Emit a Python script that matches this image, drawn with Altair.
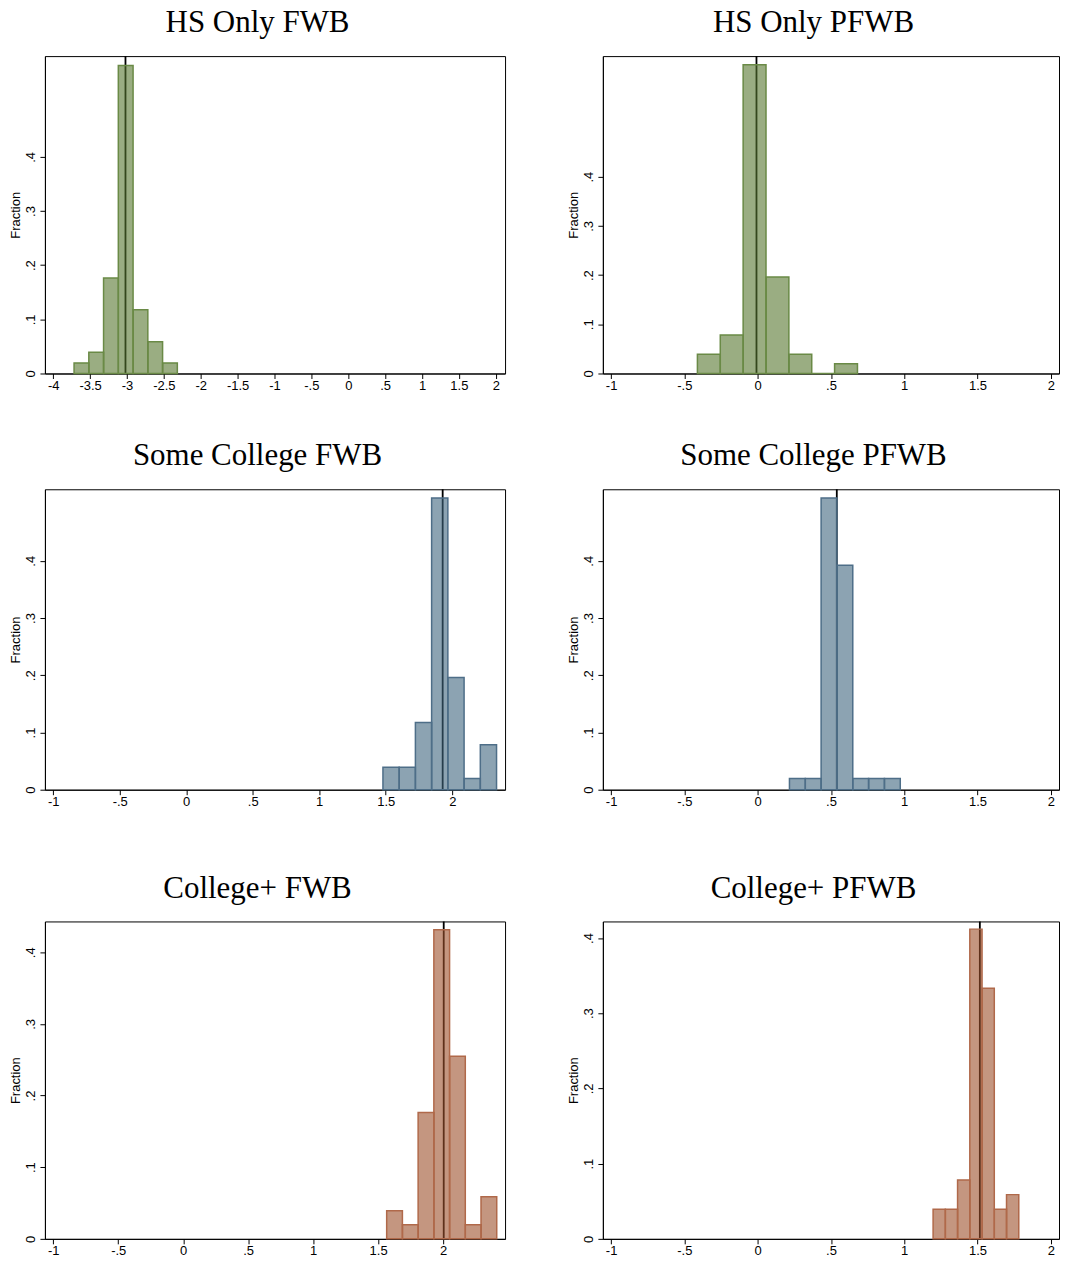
import altair as alt
import pandas as pd

# ---------------- data ----------------
titles = ["HS Only FWB", "HS Only PFWB",
          "Some College FWB", "Some College PFWB",
          "College+ FWB", "College+ PFWB"]

# bin edges (n+1) and fractions (n) for each panel, plus the mean line
hs_fwb_edges = [-3.717, -3.517, -3.317, -3.117, -2.917, -2.717, -2.517, -2.317]
hs_fwb_frac = [0.0196, 0.0392, 0.1765, 0.5686, 0.1176, 0.0588, 0.0196]
hs_fwb_mean = -3.02

hs_pfwb_edges = [-0.411, -0.255, -0.099, 0.057, 0.213, 0.369, 0.525, 0.681]
hs_pfwb_frac = [0.0392, 0.0784, 0.6275, 0.1961, 0.0392, 0.0, 0.0196]
hs_pfwb_mean = -0.008

sc_fwb_edges = [1.479, 1.601, 1.723, 1.845, 1.967, 2.089, 2.211, 2.333]
sc_fwb_frac = [0.0392, 0.0392, 0.1176, 0.5098, 0.1961, 0.0196, 0.0784]
sc_fwb_mean = 1.928

sc_pfwb_edges = [0.217, 0.325, 0.433, 0.541, 0.649, 0.757, 0.865, 0.973]
sc_pfwb_frac = [0.0196, 0.0196, 0.5098, 0.3922, 0.0196, 0.0196, 0.0196]
sc_pfwb_mean = 0.540

cp_fwb_edges = [1.566, 1.687, 1.808, 1.929, 2.050, 2.171, 2.292, 2.413]
cp_fwb_frac = [0.0392, 0.0196, 0.1765, 0.4314, 0.2549, 0.0196, 0.0588]
cp_fwb_mean = 2.005

cp_pfwb_edges = [1.197, 1.2805, 1.364, 1.4475, 1.531, 1.6145, 1.698, 1.7815]
cp_pfwb_frac = [0.0392, 0.0392, 0.0784, 0.4118, 0.3333, 0.0392, 0.0588]
cp_pfwb_mean = 1.516

x_ticks_hs_fwb = [-4, -3.5, -3, -2.5, -2, -1.5, -1, -0.5, 0, 0.5, 1, 1.5, 2]
x_ticks_other = [-1, -0.5, 0, 0.5, 1, 1.5, 2]
y_ticks = [0, 0.1, 0.2, 0.3, 0.4]

# ---------------- styling ----------------
GREEN = ("#57762f", "#6a8a46")
BLUE = ("#3f667f", "#4e6e88")
RUST = ("#9d502b", "#b0694a")

LABEL_EXPR = "(datum.value < 0 ? '-' : '') + replace(toString(abs(datum.value)), '0.', '.')"

LEFT_W = 461
RIGHT_W = 457


def panel(title, edges, frac, mean, xdom, xticks, ymax, width, height, colors):
    df = pd.DataFrame({"x": edges[:-1], "x2": edges[1:], "y": frac})
    mdf = pd.DataFrame({"x": [mean]})
    xscale = alt.Scale(domain=xdom, nice=False, zero=False)
    yscale = alt.Scale(domain=[0, ymax], nice=False, zero=False)
    xaxis = alt.Axis(values=xticks, title=None, labelExpr=LABEL_EXPR,
                     tickSize=5, labelPadding=1, grid=False,
                     labelFlush=False, labelOverlap=False)
    yaxis = alt.Axis(values=y_ticks, title="Fraction", labelExpr=LABEL_EXPR,
                     tickSize=5, labelPadding=2, labelAngle=270,
                     labelAlign="center", labelBaseline="bottom",
                     titlePadding=2, grid=False, labelFlush=False,
                     labelOverlap=False)
    rule = alt.Chart(mdf).mark_rule(color="#000000", strokeWidth=1.8).encode(
        x=alt.X("x:Q", scale=xscale, axis=xaxis),
    )
    bars = alt.Chart(df).mark_rect(
        fill=colors[0], fillOpacity=0.6, stroke=colors[1], strokeWidth=1.5
    ).encode(
        x=alt.X("x:Q", scale=xscale, axis=xaxis),
        x2="x2:Q",
        y=alt.Y("y:Q", scale=yscale, axis=yaxis),
        y2=alt.datum(0),
    )
    return alt.layer(rule, bars).properties(
        width=width, height=height,
        title=alt.TitleParams(title, font="Liberation Serif", fontSize=31,
                              fontWeight="normal", color="black",
                              anchor="middle", frame="bounds", offset=-15,
                              baseline="bottom"),
    )


p1 = panel(titles[0], hs_fwb_edges, hs_fwb_frac, hs_fwb_mean,
           [-4.112, 2.126], x_ticks_hs_fwb, 0.586, LEFT_W, 318, GREEN)
p2 = panel(titles[1], hs_pfwb_edges, hs_pfwb_frac, hs_pfwb_mean,
           [-1.056, 2.056], x_ticks_other, 0.645, RIGHT_W, 318, GREEN)
p3 = panel(titles[2], sc_fwb_edges, sc_fwb_frac, sc_fwb_mean,
           [-1.062, 2.397], x_ticks_other, 0.525, LEFT_W, 301, BLUE)
p4 = panel(titles[3], sc_pfwb_edges, sc_pfwb_frac, sc_pfwb_mean,
           [-1.056, 2.056], x_ticks_other, 0.525, RIGHT_W, 301, BLUE)
p5 = panel(titles[4], cp_fwb_edges, cp_fwb_frac, cp_fwb_mean,
           [-1.064, 2.477], x_ticks_other, 0.443, LEFT_W, 318, RUST)
p6 = panel(titles[5], cp_pfwb_edges, cp_pfwb_frac, cp_pfwb_mean,
           [-1.056, 2.056], x_ticks_other, 0.422, RIGHT_W, 318, RUST)

row1 = alt.hconcat(p1, p2, spacing=61)
row2 = alt.hconcat(p3, p4, spacing=61)
row3 = alt.hconcat(p5, p6, spacing=61)
inner = alt.vconcat(row2, row3, spacing=62)

chart = alt.vconcat(row1, inner, spacing=46).properties(
    padding={"left": 1, "top": -3, "right": 0, "bottom": 0},
    background="white",
).configure_view(
    stroke="black", strokeWidth=1
).configure_axis(
    labelFont="Liberation Sans", labelFontSize=13, labelColor="black",
    titleFont="Liberation Sans", titleFontSize=13, titleColor="black",
    titleFontWeight="normal", tickColor="black", domainColor="black",
    domainWidth=1, tickWidth=1,
)

chart.save("out.html", embed_options={"renderer": "svg", "actions": False})
